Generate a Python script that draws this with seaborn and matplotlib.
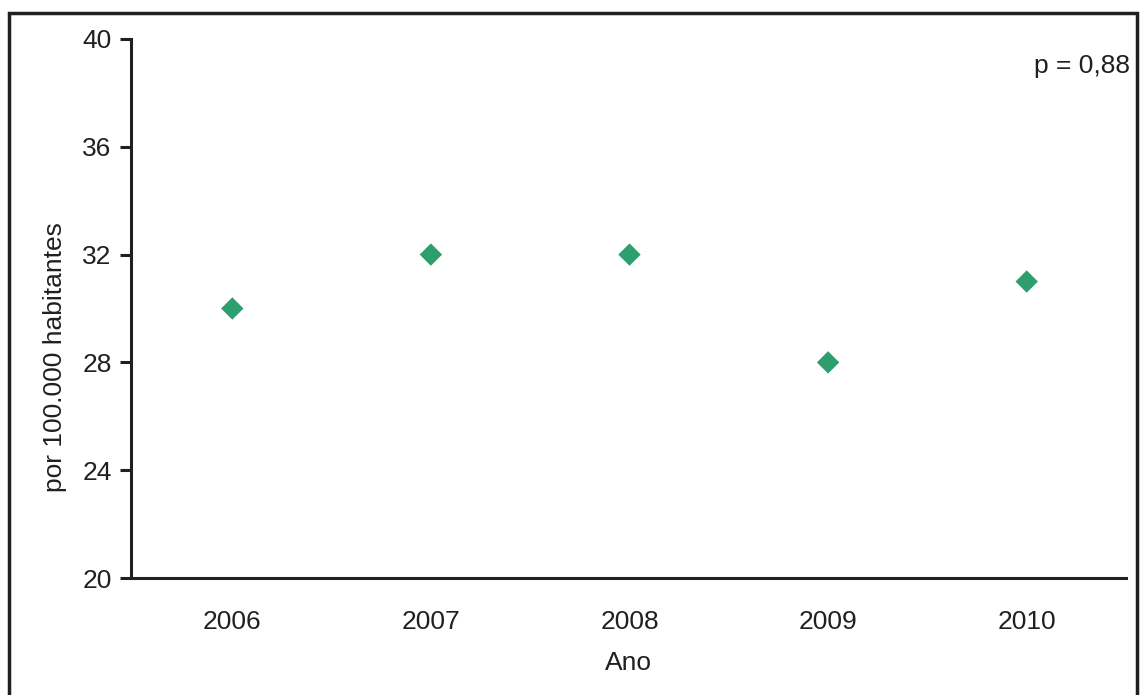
import numpy as np
import pandas as pd
import seaborn as sns
import matplotlib.pyplot as plt
from matplotlib.patches import Rectangle

anos = [2006, 2007, 2008, 2009, 2010]
taxa = [30, 32, 32, 28, 31]
y_ticks = [20, 24, 28, 32, 36, 40]

sns.set_theme(style='white')
plt.rcParams['font.family'] = ['Liberation Sans Narrow', 'Liberation Sans', 'DejaVu Sans']

df = pd.DataFrame({'Ano': anos, 'taxa': taxa})

fig = plt.figure(figsize=(11.4, 6.95), dpi=100)
ax = fig.add_axes([131 / 1140, 1 - 578 / 695, (1126 - 131) / 1140, (578 - 39) / 695])

sns.scatterplot(data=df, x='Ano', y='taxa', marker='D', s=130, color='#2e9e6e',
                edgecolor='none', ax=ax, zorder=3)

ax.set_xlim(2005.49, 2010.5)
ax.set_ylim(20, 40)
ax.set_xticks(anos)
ax.set_xticklabels([str(a) for a in anos])
ax.set_yticks(y_ticks)

for s in ['top', 'right']:
    ax.spines[s].set_visible(False)
for s in ['left', 'bottom']:
    ax.spines[s].set_color('#231f20')
    ax.spines[s].set_linewidth(2.2)

ax.tick_params(axis='y', which='major', left=True, length=8, width=2.2,
               color='#231f20', labelsize=19, labelcolor='#231f20', pad=6)
ax.tick_params(axis='x', which='major', bottom=False, labelsize=19,
               labelcolor='#231f20', pad=17)

ax.set_xlabel('Ano', fontsize=19, color='#231f20', labelpad=12)
ax.set_ylabel('por 100.000 habitantes', fontsize=19, color='#231f20')
ax.yaxis.set_label_coords(-0.064, 0.41)

fig.text(1130 / 1140, 1 - 66 / 695, 'p = 0,88', ha='right', va='center',
         fontsize=19, color='#231f20')

# moldura da figura
fig.patches.append(Rectangle((9 / 1140, -0.05), (1137 - 9) / 1140, 1.05 - 13 / 695,
                             transform=fig.transFigure, fill=False,
                             edgecolor='#231f20', linewidth=2.5))

fig.savefig('out.png', dpi=100)
